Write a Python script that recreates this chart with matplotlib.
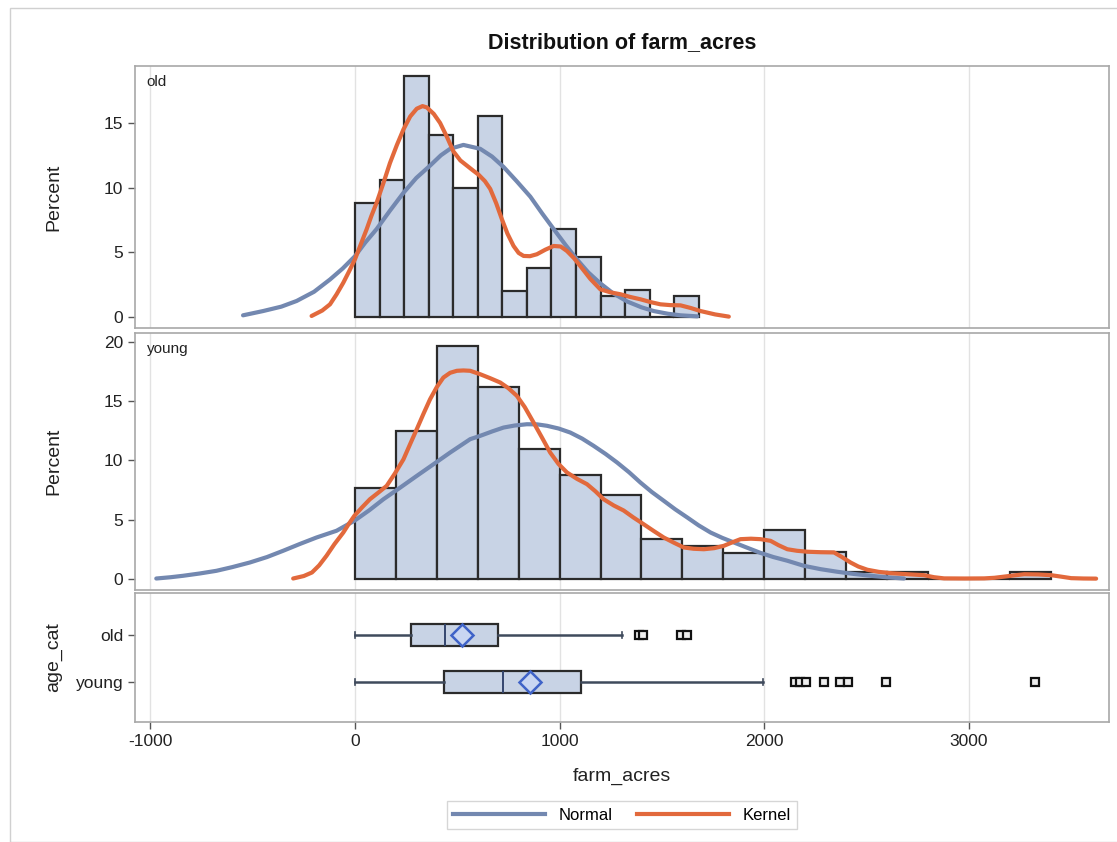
import matplotlib
matplotlib.use("Agg")
import matplotlib.pyplot as plt
from matplotlib.lines import Line2D
from matplotlib.patches import Rectangle

plt.rcParams["font.family"] = ["Liberation Sans", "DejaVu Sans"]
plt.rcParams["axes.unicode_minus"] = False

# ---- data ----
old_bins = [0, 120, 240, 360, 480, 600, 720, 840, 960, 1080, 1200, 1320, 1440, 1560]
old_pct = [8.8, 10.6, 18.6, 14.1, 10.0, 15.5, 2.0, 3.8, 6.8, 4.6, 1.6, 2.1, 0.0, 1.6]

young_bins = [0, 200, 400, 600, 800, 1000, 1200, 1400, 1600, 1800, 2000, 2200, 2400, 2600, 2800, 3000, 3200]
young_pct = [7.7, 12.5, 19.7, 16.2, 11.0, 8.8, 7.1, 3.4, 2.8, 2.2, 4.1, 2.3, 0.6, 0.6, 0.0, 0.0, 0.6]

old_norm_x = [-547, -449, -360, -285, -200, -122, -60, 0, 50, 106, 170, 237, 300, 367, 420, 465, 530,
              612, 670, 726, 790, 857, 915, 971, 1030, 1085, 1140, 1199, 1260, 1330, 1400, 1460,
              1530, 1591, 1673]
old_norm_y = [0.13, 0.46, 0.8, 1.24, 1.95, 2.9, 3.75, 4.7, 5.75, 6.8, 8.2, 9.6, 10.75, 11.7, 12.5, 13.0, 13.3,
              13.0, 12.4, 11.6, 10.5, 9.3, 8.0, 6.8, 5.55, 4.45, 3.45, 2.6, 1.85, 1.2, 0.75, 0.46,
              0.25, 0.13, 0.05]

old_kern_x = [-212, -160, -122, -90, -57, -28, 0, 28, 57, 80, 106, 140, 171, 205, 237, 270, 302, 330, 351,
              385, 416, 450, 481, 515, 547, 575, 604, 635, 661, 690, 718, 745, 775, 800, 824, 855, 889,
              930, 971, 1005, 1036, 1070, 1101, 1150, 1199, 1250, 1297, 1345, 1395, 1445, 1493,
              1540, 1591, 1640, 1689, 1760, 1827]
old_kern_y = [0.08, 0.5, 0.98, 1.75, 2.65, 3.55, 4.46, 5.6, 6.78, 7.8, 8.84, 10.4, 11.9, 13.3, 14.5, 15.5,
              16.1, 16.3, 16.2, 15.7, 15.0, 13.9, 12.8, 12.1, 11.7, 11.35, 11.0, 10.5, 9.9, 8.8,
              7.56, 6.45, 5.49, 4.95, 4.72, 4.7, 4.85, 5.2, 5.49, 5.45, 5.1, 4.55, 3.94, 2.95,
              2.14, 1.9, 1.76, 1.55, 1.37, 1.15, 0.98, 0.92, 0.9, 0.7, 0.46, 0.2, 0.03]

young_norm_x = [-971, -900, -840, -760, -677, -600, -514, -430, -351, -270, -188, -90, -3, 70, 139,
                220, 302, 385, 465, 563, 612, 670, 726, 780, 840, 890, 938, 995, 1052, 1110, 1166,
                1225, 1281, 1340, 1395, 1450, 1509, 1565, 1624, 1680, 1738, 1795, 1852, 1915,
                1982, 2045, 2113, 2194, 2275, 2357, 2440, 2520, 2600, 2683]
young_norm_y = [0.04, 0.15, 0.27, 0.46, 0.69, 1.0, 1.39, 1.85, 2.38, 2.95, 3.5, 4.07, 4.91, 5.8, 6.73,
                7.7, 8.7, 9.7, 10.67, 11.8, 12.08, 12.45, 12.78, 12.95, 13.06, 13.05, 12.93, 12.7,
                12.36, 11.85, 11.24, 10.55, 9.83, 9.0, 8.14, 7.35, 6.6, 5.88, 5.19, 4.52, 3.92,
                3.47, 3.08, 2.65, 2.2, 1.85, 1.54, 1.11, 0.83, 0.61, 0.42, 0.27, 0.14, 0.04]

young_kern_x = [-302, -250, -210, -175, -139, -100, -57, -30, -3, 35, 73, 115, 155, 195, 237, 270, 302, 335,
                367, 400, 432, 465, 498, 530, 563, 612, 660, 710, 750, 791, 830, 873, 915, 954, 995, 1036,
                1085, 1134, 1175, 1215, 1265, 1313, 1360, 1411, 1460, 1509, 1560, 1607, 1655, 1705,
                1755, 1803, 1845, 1884, 1935, 1982, 2031, 2070, 2113, 2160, 2211, 2275, 2341, 2380,
                2422, 2460, 2504, 2560, 2618, 2700, 2781, 2830, 2879, 2980, 3075, 3125, 3173, 3220,
                3271, 3340, 3402, 3450, 3500, 3560, 3622]
young_kern_y = [0.04, 0.25, 0.55, 1.15, 1.96, 2.95, 3.92, 4.65, 5.33, 6.05, 6.73, 7.3, 7.86, 8.9, 10.1, 11.4,
                12.64, 13.95, 15.17, 16.2, 17.0, 17.4, 17.57, 17.6, 17.57, 17.28, 16.95, 16.58, 16.1,
                15.46, 14.5, 13.2, 11.9, 10.67, 9.7, 8.99, 8.45, 8.0, 7.4, 6.73, 6.2, 5.78, 5.2, 4.62,
                4.05, 3.5, 3.05, 2.66, 2.55, 2.51, 2.6, 2.8, 3.1, 3.36, 3.4, 3.36, 3.22, 2.85, 2.51,
                2.38, 2.3, 2.26, 2.24, 1.85, 1.39, 1.05, 0.78, 0.6, 0.49, 0.4, 0.32, 0.15, 0.05, 0.04,
                0.05, 0.1, 0.2, 0.3, 0.4, 0.38, 0.32, 0.2, 0.07, 0.04, 0.03]

groups = ["old", "young"]
box_q1 = [275, 435]
box_med = [439, 724]
box_mean = [522, 853]
box_q3 = [698, 1107]
whisk_lo = [0, 0]
whisk_hi = [1305, 1995]
fliers = [[1390, 1410, 1595, 1625],
          [2150, 2175, 2205, 2292, 2370, 2410, 2595, 3322]]

# ---- style ----
BAR_FILL = "#c8d3e5"
BAR_EDGE = "#2b2b2b"
NORMAL_C = "#7388b0"
KERNEL_C = "#e2693c"
GRID_C = "#e2e2e2"
SPINE_C = "#a8a8a8"
XLIM = (-1075, 3685)

fig = plt.figure(figsize=(11.17, 8.42), dpi=100)
fig.patches.append(Rectangle((10 / 1117, 0), 1.0, 1 - 8 / 842, transform=fig.transFigure,
                             fill=False, edgecolor="#d0d0d0", linewidth=1.0))

left, width = 135 / 1117, 974 / 1117
ax1 = fig.add_axes([left, 1 - 328 / 842, width, 262 / 842])
ax2 = fig.add_axes([left, 1 - 590 / 842, width, 257 / 842])
ax3 = fig.add_axes([left, 1 - 722 / 842, width, 129 / 842])


def style(ax):
    ax.set_xlim(*XLIM)
    ax.set_xticks([-1000, 0, 1000, 2000, 3000])
    ax.grid(axis="x", color=GRID_C, linewidth=1.0)
    ax.set_axisbelow(True)
    for s in ax.spines.values():
        s.set_color(SPINE_C)
        s.set_linewidth(1.2)
    ax.tick_params(colors="#555555", labelcolor="#222222", labelsize=12.5, length=5, width=1)


for ax, bins, pct, w, nx, ny, kx, ky, lab, ylim, yt in [
    (ax1, old_bins, old_pct, 120, old_norm_x, old_norm_y, old_kern_x, old_kern_y, "old",
     (-0.85, 19.4), [0, 5, 10, 15]),
    (ax2, young_bins, young_pct, 200, young_norm_x, young_norm_y, young_kern_x, young_kern_y, "young",
     (-0.93, 20.76), [0, 5, 10, 15, 20]),
]:
    style(ax)
    ax.bar(bins, pct, width=w, align="edge", color=BAR_FILL, edgecolor=BAR_EDGE, linewidth=1.6, zorder=2)
    ax.plot(nx, ny, color=NORMAL_C, linewidth=3.0, zorder=3, solid_capstyle="round", solid_joinstyle="round")
    ax.plot(kx, ky, color=KERNEL_C, linewidth=3.0, zorder=4, solid_capstyle="round", solid_joinstyle="round")
    ax.set_ylim(*ylim)
    ax.set_yticks(yt)
    ax.set_ylabel("Percent", fontsize=14, labelpad=30, color="#222222")
    ax.tick_params(axis="x", bottom=False, labelbottom=False)
    ax.text(0.012, 0.965, lab, transform=ax.transAxes, fontsize=11, va="top", ha="left", color="#222222")

# ---- box plot panel ----
style(ax3)
stats = []
for i, g in enumerate(groups):
    stats.append(dict(label=g, whislo=whisk_lo[i], q1=box_q1[i], med=box_med[i], mean=box_mean[i],
                      q3=box_q3[i], whishi=whisk_hi[i], fliers=fliers[i]))
ax3.bxp(stats, positions=[1, 2], orientation="horizontal", widths=0.45, showmeans=True,
        patch_artist=True, manage_ticks=False,
        boxprops=dict(facecolor=BAR_FILL, edgecolor="#2b2b2b", linewidth=1.6),
        medianprops=dict(color="#34466e", linewidth=1.4),
        whiskerprops=dict(color="#3f4a5c", linewidth=1.8),
        capprops=dict(color="#3f4a5c", linewidth=1.2),
        capwidths=0.12,
        meanprops=dict(marker="D", markersize=11, markerfacecolor="#c9d6f2",
                       markeredgecolor="#3f63c8", markeredgewidth=1.8),
        flierprops=dict(marker="s", markersize=6, markerfacecolor="#eeeeee",
                        markeredgecolor="#111111", markeredgewidth=1.6))
ax3.set_ylim(2.85, 0.106)
ax3.set_yticks([1, 2])
ax3.set_yticklabels(groups)
ax3.set_ylabel("age_cat", fontsize=14, labelpad=10, color="#222222")
ax3.set_xlabel("farm_acres", fontsize=14, labelpad=14, color="#222222")

fig.suptitle("Distribution of farm_acres", x=622 / 1117, y=1 - 43 / 842, va="center",
             fontsize=15.5, fontweight="bold", color="#111111")

handles = [Line2D([], [], color=NORMAL_C, linewidth=3.0), Line2D([], [], color=KERNEL_C, linewidth=3.0)]
fig.legend(handles, ["Normal", "Kernel"], loc="center", bbox_to_anchor=(622 / 1117, 1 - 815 / 842),
           ncol=2, frameon=True, fancybox=False, edgecolor="#cccccc", fontsize=12,
           handlelength=5.5, columnspacing=1.5, borderpad=0.4)

fig.savefig("out.png", dpi=100)
